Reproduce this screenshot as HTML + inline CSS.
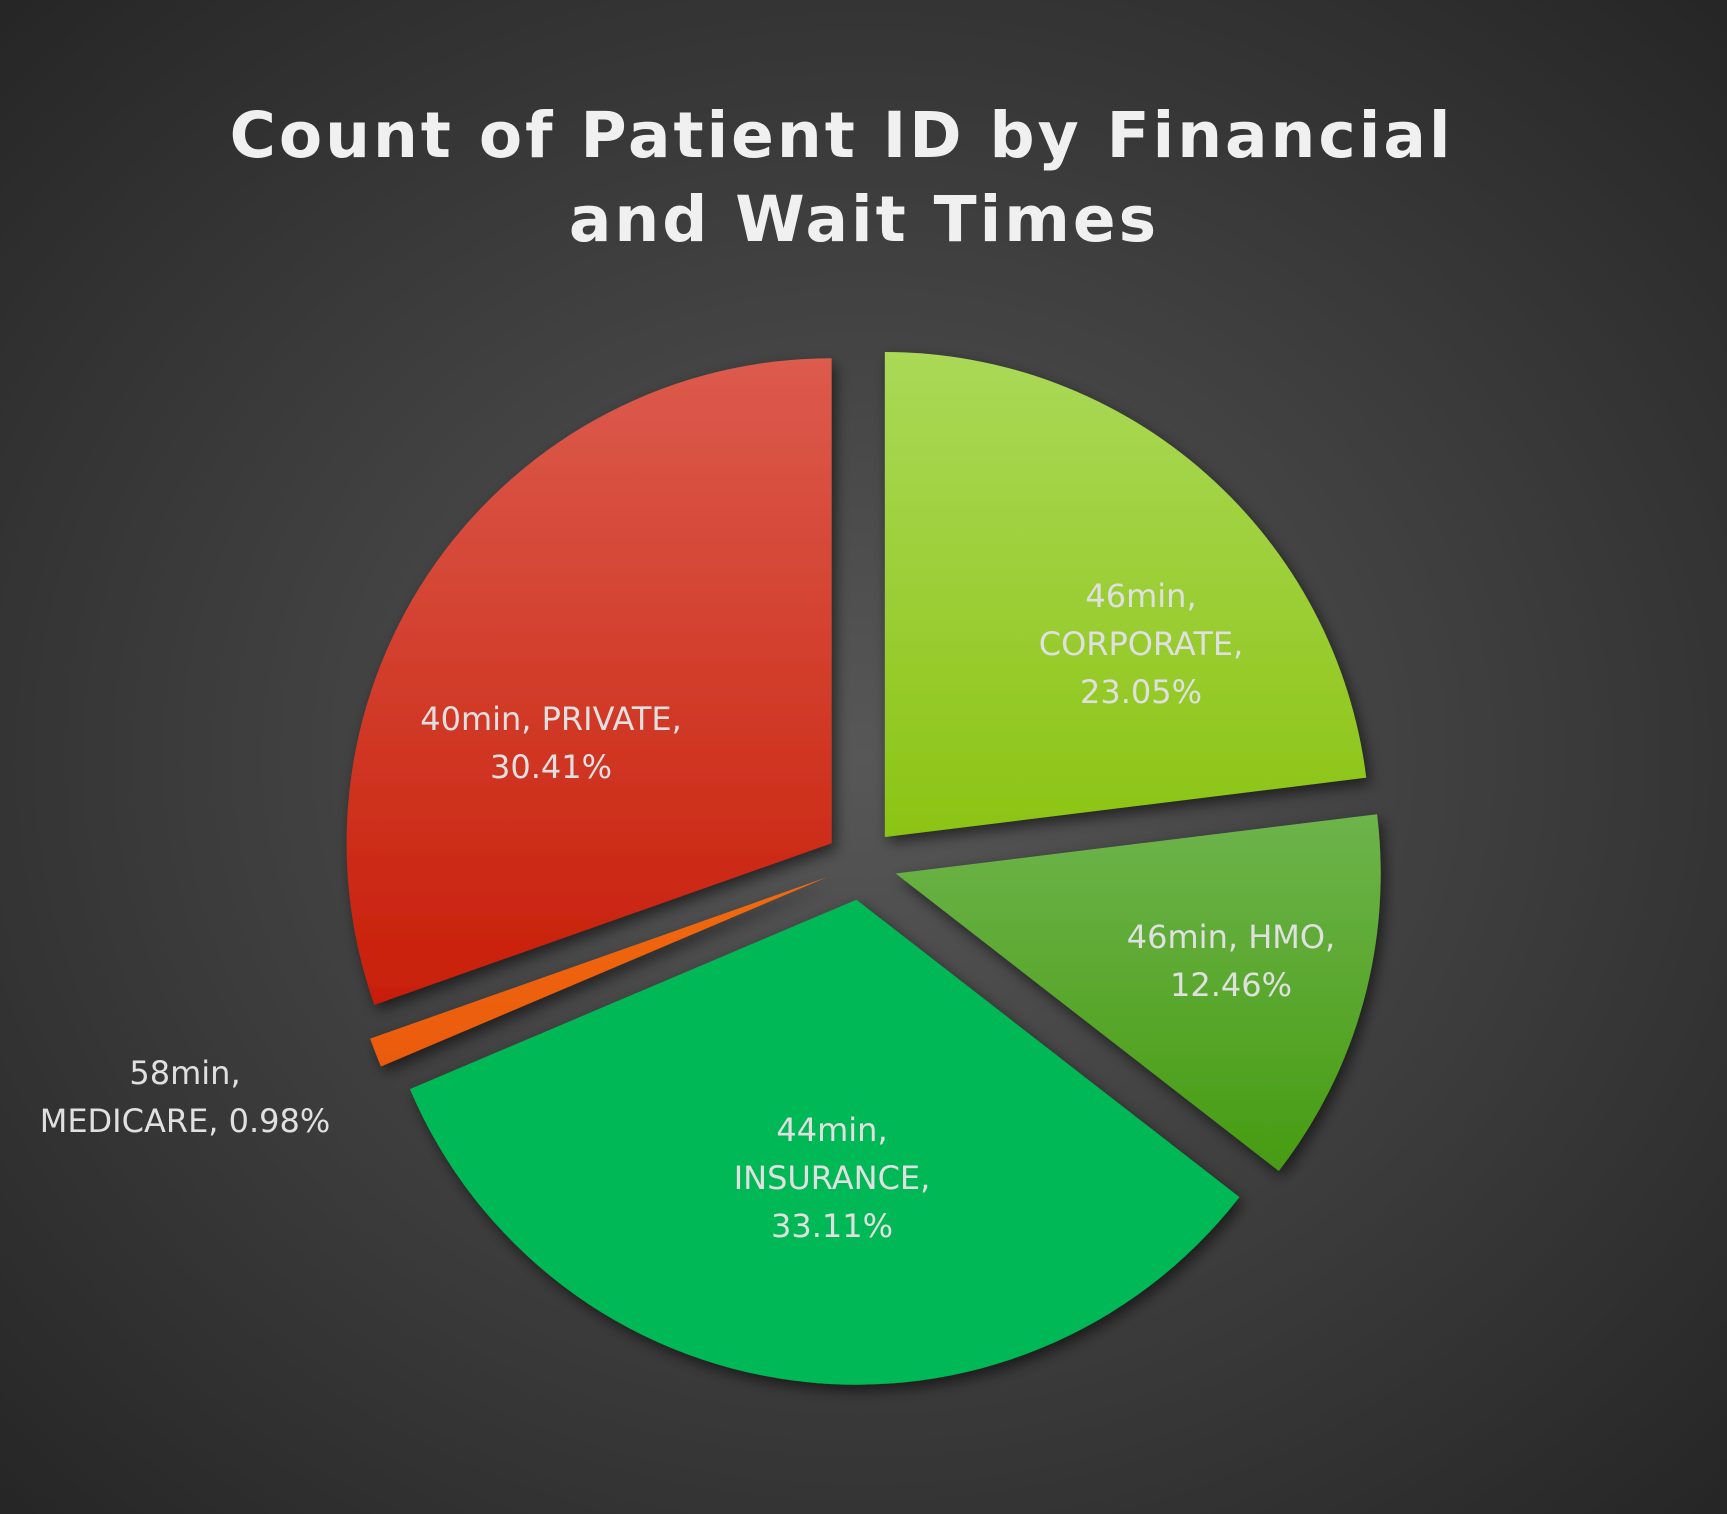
<!DOCTYPE html>
<html><head><meta charset="utf-8"><style>
html,body{margin:0;padding:0;background:#2b2b2b}
svg{display:block}
</style></head><body>
<svg id="chart" width="1727" height="1514" viewBox="0 0 1727 1514" xmlns="http://www.w3.org/2000/svg">
<defs>
<radialGradient id="bg" cx="50%" cy="50%" r="70%">
<stop offset="0" stop-color="#575757"/><stop offset="1" stop-color="#262626"/></radialGradient>
<linearGradient id="gPriv" x1="0" y1="0" x2="0" y2="1"><stop offset="0" stop-color="#dc5b4d"/><stop offset="1" stop-color="#c81e08"/></linearGradient>
<linearGradient id="gCorp" x1="0" y1="0" x2="0" y2="1"><stop offset="0" stop-color="#aad957"/><stop offset="1" stop-color="#8cc414"/></linearGradient>
<linearGradient id="gHmo" x1="0" y1="0" x2="0" y2="1"><stop offset="0" stop-color="#6db44b"/><stop offset="1" stop-color="#479c12"/></linearGradient>
<linearGradient id="gIns" x1="0" y1="0" x2="0" y2="1"><stop offset="0" stop-color="#03b855"/><stop offset="1" stop-color="#03b855"/></linearGradient>
<linearGradient id="gMed" x1="0" y1="0" x2="0" y2="1"><stop offset="0" stop-color="#f26a12"/><stop offset="1" stop-color="#ea5a0a"/></linearGradient>
<filter id="sh" x="-20%" y="-20%" width="140%" height="140%"><feDropShadow dx="4" dy="6" stdDeviation="7" flood-color="#000" flood-opacity="0.55"/></filter>
</defs>
<rect width="1727" height="1514" fill="url(#bg)"/>
<text font-family="'DejaVu Sans','Liberation Sans',sans-serif" font-weight="bold" font-size="63" fill="#f0f0f0" text-anchor="middle" letter-spacing="3">
<tspan x="854" y="157">Count of Patient ID by Financial</tspan>
<tspan x="864" y="241">and Wait Times</tspan></text>
<g id="slices"></g>
<g id="labels" font-family="'DejaVu Sans','Liberation Sans',sans-serif" font-size="32" fill="#e0e0e0" text-anchor="middle"></g>
</svg>
<script>
const categories = ["CORPORATE","HMO","INSURANCE","MEDICARE","PRIVATE"];
const waitTimes = ["46min","46min","44min","58min","40min"];
const shares = [23.05,12.46,33.11,0.98,30.41];
const fills = ["url(#gCorp)","url(#gHmo)","url(#gIns)","url(#gMed)","url(#gPriv)"];
const labelLines = [
  ["46min,","CORPORATE,","23.05%"],
  ["46min, HMO,","12.46%"],
  ["44min,","INSURANCE,","33.11%"],
  ["58min,","MEDICARE, 0.98%"],
  ["40min, PRIVATE,","30.41%"]
];
const labelPos = [[1141,607],[1231,948],[832,1141],[185,1084],[551,730]];
const cx=861, cy=864, R=485, off=36;
const NS="http://www.w3.org/2000/svg";
const total = shares.reduce((a,b)=>a+b,0);
function pt(a,r,ox,oy){return [ox+r*Math.sin(a), oy-r*Math.cos(a)];}
let acc=0;
const sg=document.getElementById('slices'), lg=document.getElementById('labels');
shares.forEach((v,i)=>{
  const a0=acc/total*2*Math.PI; acc+=v; const a1=acc/total*2*Math.PI;
  const am=(a0+a1)/2;
  const ox=cx+off*Math.sin(am), oy=cy-off*Math.cos(am);
  const p0=pt(a0,R,ox,oy), p1=pt(a1,R,ox,oy);
  const large=(a1-a0)>Math.PI?1:0;
  const p=document.createElementNS(NS,'path');
  p.setAttribute('d',`M${ox},${oy}L${p0[0]},${p0[1]}A${R},${R} 0 ${large} 1 ${p1[0]},${p1[1]}Z`);
  p.setAttribute('fill',fills[i]);
  p.setAttribute('filter','url(#sh)');
  
  
  sg.appendChild(p);
  const t=document.createElementNS(NS,'text');
  
  
  labelLines[i].forEach((s,j)=>{
    const ts=document.createElementNS(NS,'tspan');
    ts.setAttribute('x',labelPos[i][0]);
    ts.setAttribute('y',labelPos[i][1]+j*48);
    ts.textContent=s;
    t.appendChild(ts);
  });
  lg.appendChild(t);
});
</script>
</body></html>
